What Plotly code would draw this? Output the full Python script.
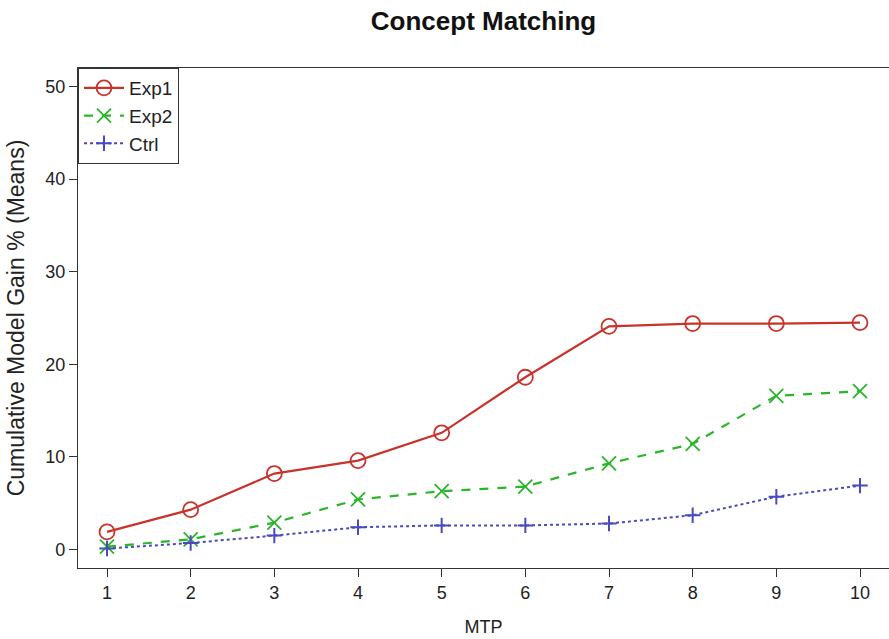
import plotly.graph_objects as go

mtp = [1, 2, 3, 4, 5, 6, 7, 8, 9, 10]
exp1 = [1.9, 4.3, 8.2, 9.6, 12.6, 18.6, 24.1, 24.4, 24.4, 24.5]
exp2 = [0.3, 1.1, 2.9, 5.4, 6.3, 6.8, 9.3, 11.4, 16.6, 17.1]
ctrl = [0.1, 0.7, 1.5, 2.4, 2.6, 2.6, 2.8, 3.7, 5.7, 6.9]
y_ticks = [0, 10, 20, 30, 40, 50]

FONT = "Liberation Sans, Arial, Helvetica, sans-serif"

fig = go.Figure()
fig.add_trace(go.Scatter(
    x=mtp, y=exp1, name="Exp1", mode="lines+markers",
    line=dict(color="#c8332b", width=2.2, dash="solid"),
    marker=dict(symbol="circle-open", size=15, color="#c8332b", line=dict(width=1.8)),
))
fig.add_trace(go.Scatter(
    x=mtp, y=exp2, name="Exp2", mode="lines+markers",
    line=dict(color="#2ab52a", width=2.2, dash="dash"),
    marker=dict(symbol="x-thin-open", size=14, color="#2ab52a", line=dict(width=1.8, color="#2ab52a")),
))
fig.add_trace(go.Scatter(
    x=mtp, y=ctrl, name="Ctrl", mode="lines+markers",
    line=dict(color="#4a4ac0", width=2, dash="dot"),
    marker=dict(symbol="cross-thin-open", size=11, color="#4a4ac0", line=dict(width=2, color="#4a4ac0")),
))

fig.update_layout(
    width=889, height=639,
    margin=dict(l=78, r=0, t=68, b=71, autoexpand=False),
    paper_bgcolor="white", plot_bgcolor="white",
    font=dict(family=FONT, size=18, color="#222"),
    title=dict(text="<b>Concept Matching</b>", x=0.5, xref="paper", xanchor="center",
               y=1 - 21 / 639, yref="container", yanchor="middle", automargin=False,
               font=dict(size=26, color="#111", family=FONT)),
    showlegend=True,
    legend=dict(x=0, y=1, xanchor="left", yanchor="top", bordercolor="#333", borderwidth=1,
                bgcolor="white", font=dict(size=19, color="#222"),
                tracegroupgap=0, itemwidth=40),
)
fig.update_xaxes(
    range=[1 - 29 / 83.67, 10 + 29 / 83.67], tickvals=mtp, ticktext=[str(v) for v in mtp],
    showline=True, mirror=True, linecolor="#333", linewidth=1.2, automargin=False,
    ticks="outside", ticklen=8, tickcolor="#333", showgrid=False, zeroline=False,
    title=dict(text="MTP", font=dict(size=18), standoff=18),
)
fig.update_yaxes(
    range=[-2, 52], tickvals=y_ticks, ticktext=[str(v) for v in y_ticks],
    showline=True, mirror=True, linecolor="#333", linewidth=1.2, automargin=False,
    ticks="outside", ticklen=8, tickcolor="#333", showgrid=False, zeroline=False,
    title=dict(text="Cumulative Model Gain % (Means)", font=dict(size=23), standoff=14),
)

fig.write_html(
    "out.html",
    config={"displayModeBar": False},
    post_script="document.body.style.margin='0';document.body.style.overflow='hidden';",
)
